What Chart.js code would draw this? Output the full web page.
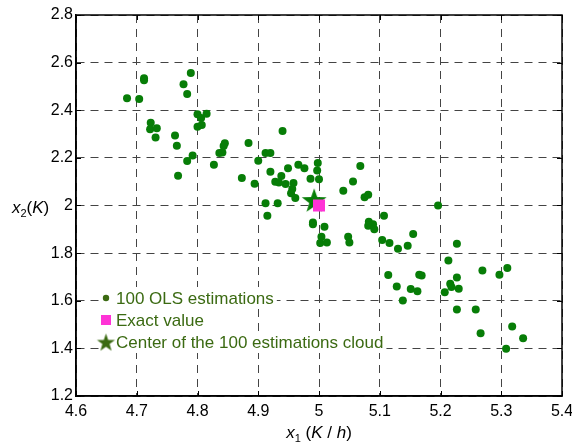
<html>
  <head>
    <script src="https://cdn.jsdelivr.net/npm/chart.js@4.4.1/dist/chart.umd.min.js"></script>
    <style>
      body { margin: 0; background: #fff; }
      #wrap { width: 572px; height: 442px; position: relative; }
    </style>
  </head>
  <body>
    <div id="wrap"><canvas id="cloud"></canvas></div>
    <script>
      // 100 OLS estimates of (x1, x2)
      var olsX = [
        4.684, 4.704, 4.712, 4.712, 4.723, 4.722, 4.733, 4.731, 4.763, 4.766,
        4.768, 4.777, 4.789, 4.783, 4.800, 4.806, 4.815, 4.800, 4.807, 4.792,
        4.783, 4.827, 4.836, 4.841, 4.843, 4.845, 4.884, 4.873, 4.894, 4.900,
        4.912, 4.920, 4.920, 4.940, 4.938, 4.928, 4.934, 4.945, 4.949, 4.958,
        4.956, 4.954, 4.961, 4.966, 4.976, 4.986, 4.998, 4.997, 5.000, 4.912,
        4.932, 4.915, 5.068, 5.056, 5.040, 5.075, 5.081, 5.196, 4.990, 4.990,
        5.009, 5.004, 5.002, 5.013, 5.048, 5.050, 5.107, 5.082, 5.089, 5.081,
        5.091, 5.155, 5.104, 5.116, 5.130, 5.146, 5.227, 5.213, 5.269, 5.297,
        5.310, 5.114, 5.128, 5.138, 5.151, 5.162, 5.165, 5.169, 5.207, 5.216,
        5.218, 5.227, 5.230, 5.227, 5.258, 5.266, 5.318, 5.336, 5.308
      ];
      var olsY = [
        2.450, 2.447, 2.534, 2.526, 2.348, 2.320, 2.324, 2.286, 2.294, 2.251,
        2.125, 2.509, 2.556, 2.468, 2.383, 2.367, 2.385, 2.331, 2.338, 2.210,
        2.187, 2.171, 2.220, 2.223, 2.250, 2.261, 2.262, 2.115, 2.091, 2.188,
        2.220, 2.220, 2.142, 2.313, 2.124, 2.100, 2.097, 2.090, 2.156, 2.094,
        2.069, 2.051, 2.032, 2.171, 2.156, 2.112, 2.178, 2.147, 2.110, 2.009,
        2.009, 1.957, 2.166, 2.101, 2.062, 2.035, 2.045, 2.000, 1.929, 1.921,
        1.911, 1.869, 1.843, 1.845, 1.869, 1.845, 1.957, 1.932, 1.921, 1.915,
        1.900, 1.880, 1.855, 1.842, 1.818, 1.831, 1.839, 1.769, 1.727, 1.709,
        1.738, 1.708, 1.660, 1.601, 1.649, 1.640, 1.709, 1.706, 1.636, 1.671,
        1.658, 1.698, 1.650, 1.563, 1.563, 1.463, 1.492, 1.443, 1.398
      ];
      var exactPoint = [5.0, 2.0];
      var centerPoint = [4.992, 2.023];

      var xTicks = [4.6, 4.7, 4.8, 4.9, 5.0, 5.1, 5.2, 5.3, 5.4];
      var yTicks = [1.2, 1.4, 1.6, 1.8, 2.0, 2.2, 2.4, 2.6, 2.8];

      var legendLabels = ['100 OLS estimations', 'Exact value', 'Center of the 100 estimations cloud'];

      var GREEN = '#077d07';
      var MAGENTA = '#ff33d6';
      var OLIVE = '#3b6a12';
      var FONT = '"Liberation Sans", Arial, sans-serif';

      function makeStar(r, color) {
        var c = document.createElement('canvas');
        c.width = c.height = Math.ceil(r * 2 + 2);
        var g = c.getContext('2d');
        var cx = c.width / 2, cy = c.height / 2 + r * 0.1;
        g.beginPath();
        for (var i = 0; i < 10; i++) {
          var rad = i % 2 ? r * 0.4 : r;
          var a = -Math.PI / 2 + i * Math.PI / 5;
          g.lineTo(cx + rad * Math.cos(a), cy + rad * Math.sin(a));
        }
        g.closePath();
        g.fillStyle = color;
        g.fill();
        return c;
      }

      var bigStar = makeStar(13, GREEN);
      var smallStar = makeStar(9.5, OLIVE);

      function fmt(v) { return String(parseFloat(Number(v).toFixed(2))); }

      // italic/subscript pieces drawn left to right
      function drawRich(ctx, parts, x, y, align) {
        var total = 0;
        parts.forEach(function(p) { ctx.font = p.font; total += ctx.measureText(p.t).width; });
        var cx = align === 'center' ? x - total / 2 : x;
        ctx.textAlign = 'left';
        ctx.textBaseline = 'alphabetic';
        parts.forEach(function(p) {
          ctx.font = p.font;
          ctx.fillText(p.t, cx, y + (p.dy || 0));
          cx += ctx.measureText(p.t).width;
        });
      }

      var frame = {
        id: 'frame',
        afterDraw: function(chart) {
          var ctx = chart.ctx, a = chart.chartArea;
          var xs = chart.scales.x, ys = chart.scales.y;
          ctx.save();

          // legend rows sit on white, hiding the grid behind them
          var rows = [298, 320, 342];
          ctx.font = '17px ' + FONT;
          ctx.fillStyle = '#fff';
          legendLabels.forEach(function(t, i) {
            var w = ctx.measureText(t).width;
            ctx.fillRect(100, rows[i] - 11, 116 + w + 3 - 100, 22);
          });

          ctx.strokeStyle = '#000';
          ctx.lineWidth = 1.5;
          ctx.strokeRect(a.left, a.top, a.right - a.left, a.bottom - a.top);
          ctx.lineWidth = 1;
          ctx.beginPath();
          xTicks.forEach(function(v) {
            var px = Math.round(xs.getPixelForValue(v)) + 0.5;
            ctx.moveTo(px, a.bottom); ctx.lineTo(px, a.bottom - 5);
            ctx.moveTo(px, a.top); ctx.lineTo(px, a.top + 5);
          });
          yTicks.forEach(function(v) {
            var py = Math.round(ys.getPixelForValue(v)) + 0.5;
            ctx.moveTo(a.left, py); ctx.lineTo(a.left + 5, py);
            ctx.moveTo(a.right, py); ctx.lineTo(a.right - 5, py);
          });
          ctx.stroke();

          // axis titles
          ctx.fillStyle = '#000';
          var it = 'italic 17px ' + FONT;
          var up = '17px ' + FONT;
          var sub = '11px ' + FONT;
          drawRich(ctx, [
            { t: 'x', font: it }, { t: '1', font: sub, dy: 4 },
            { t: ' (', font: up }, { t: 'K', font: it }, { t: ' / ', font: up },
            { t: 'h', font: it }, { t: ')', font: up }
          ], (a.left + a.right) / 2, 438, 'center');
          drawRich(ctx, [
            { t: 'x', font: it }, { t: '2', font: sub, dy: 4 },
            { t: '(', font: up }, { t: 'K', font: it }, { t: ')', font: up }
          ], 12, 213, 'left');

          // legend text and markers
          ctx.font = '17px ' + FONT;
          ctx.textAlign = 'left';
          ctx.textBaseline = 'middle';
          ctx.fillStyle = OLIVE;
          legendLabels.forEach(function(t, i) { ctx.fillText(t, 116, rows[i] + 1); });
          ctx.beginPath();
          ctx.arc(106, rows[0], 3.2, 0, Math.PI * 2);
          ctx.fill();
          ctx.fillStyle = MAGENTA;
          ctx.fillRect(101, rows[1] - 5, 10, 10);
          ctx.drawImage(smallStar, 106 - smallStar.width / 2, rows[2] - smallStar.height / 2);
          ctx.restore();
        }
      };

      var gridOpts = { color: '#444', lineWidth: 1, drawTicks: false };
      var tickFont = { family: FONT, size: 16 };

      new Chart(document.getElementById('cloud'), {
        type: 'scatter',
        data: {
          datasets: [
            {
              label: legendLabels[0],
              data: olsX.map(function(x, i) { return { x: x, y: olsY[i] }; }),
              backgroundColor: GREEN,
              borderWidth: 0,
              pointRadius: 4,
              order: 3
            },
            {
              label: legendLabels[2],
              data: [{ x: centerPoint[0], y: centerPoint[1] }],
              pointStyle: bigStar,
              order: 2
            },
            {
              label: legendLabels[1],
              data: [{ x: exactPoint[0], y: exactPoint[1] }],
              pointStyle: 'rect',
              pointRadius: 8.5,
              backgroundColor: MAGENTA,
              borderWidth: 0,
              order: 1
            }
          ]
        },
        options: {
          responsive: true,
          maintainAspectRatio: false,
          animation: false,
          layout: { padding: { left: 0, right: 10, top: 15, bottom: 0 } },
          plugins: { legend: { display: false }, tooltip: { enabled: false } },
          scales: {
            x: {
              type: 'linear',
              min: 4.6, max: 5.4,
              afterBuildTicks: function(s) { s.ticks = xTicks.map(function(v) { return { value: v }; }); },
              afterFit: function(s) { s.height = 46; s.paddingLeft = 0; s.paddingRight = 0; },
              grid: gridOpts,
              border: { display: true, color: '#000', width: 1.5, dash: [8, 6] },
              ticks: { color: '#000', font: tickFont, padding: 6, maxRotation: 0, callback: fmt }
            },
            y: {
              type: 'linear',
              min: 1.2, max: 2.8,
              afterBuildTicks: function(s) { s.ticks = yTicks.map(function(v) { return { value: v }; }); },
              afterFit: function(s) { s.width = 76; s.paddingTop = 0; s.paddingBottom = 0; },
              grid: gridOpts,
              border: { display: true, color: '#000', width: 1.5, dash: [8, 6] },
              ticks: { color: '#000', font: tickFont, padding: 3, callback: fmt }
            }
          }
        },
        plugins: [frame]
      });
    </script>
  </body>
</html>
